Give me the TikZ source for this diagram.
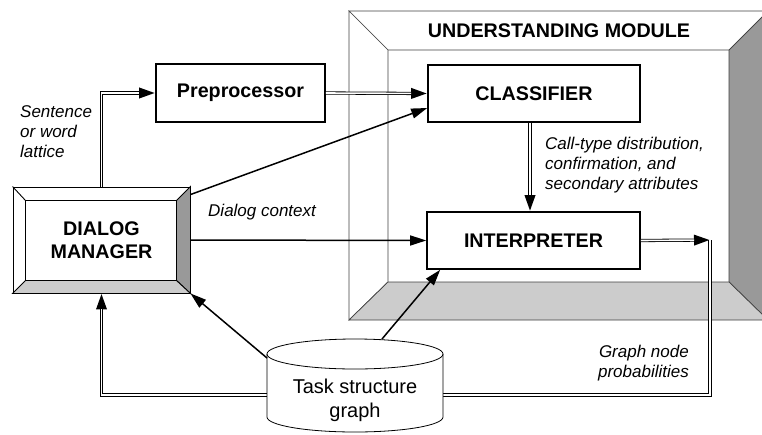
\documentclass[tikz,border=0pt]{standalone}
\usepackage{fontspec}
\setmainfont{Liberation Sans}
\usetikzlibrary{arrows.meta,calc}
\begin{document}
\begin{tikzpicture}[x=1pt,y=-1pt,
  box/.style={draw, line width=1.6pt, fill=white, inner sep=0pt, font=\bfseries\fontsize{19.7}{23}\selectfont},
  conn/.style={line width=1.5pt, -{Triangle[length=16pt,width=10pt]}},
  dbl/.style={line width=3.2pt, -{Triangle[length=16pt,width=10pt]},
              postaction={draw=white, line width=1.6pt, -, shorten >=16pt}},
  dblplain/.style={line width=3.2pt, postaction={draw=white, line width=1.6pt}},
  lbl/.style={font=\itshape\fontsize{17}{20}\selectfont, inner sep=0pt},
  panel/.style={draw=black!75, line width=0.7pt},
]
\useasboundingbox (0,0) rectangle (762,434);
\clip (0,0) rectangle (762,434);

% bevelled frame of the understanding module
\coordinate (mo1) at (349,11);  \coordinate (mo2) at (768,11);
\coordinate (mo3) at (768,320); \coordinate (mo4) at (349,320);
\coordinate (mi1) at (388,50);  \coordinate (mi2) at (729,50);
\coordinate (mi3) at (729,282); \coordinate (mi4) at (388,282);
\filldraw[panel, fill=white] (mo1) -- (mo2) -- (mi2) -- (mi1) -- cycle;
\filldraw[panel, fill=white] (mo1) -- (mi1) -- (mi4) -- (mo4) -- cycle;
\filldraw[panel, fill=black!40] (mo2) -- (mo3) -- (mi3) -- (mi2) -- cycle;
\filldraw[panel, fill=black!20] (mo4) -- (mi4) -- (mi3) -- (mo3) -- cycle;
\node[font=\bfseries\fontsize{19.7}{23}\selectfont] (umt) at (559,31) {UNDERSTANDING MODULE};

% processing boxes
\node[box, minimum width=169pt, minimum height=58pt] (pre) at (240.5,93) {Preprocessor};
\node[box, minimum width=212pt, minimum height=57pt] (cls) at (534,93.5) {CLASSIFIER};
\node[box, minimum width=213pt, minimum height=57pt] (int) at (533.5,240.5) {INTERPRETER};

% dialog manager with bevel
\node[draw, line width=0.9pt, fill=white, minimum width=177pt, minimum height=106pt,
      inner sep=0pt, align=center, font=\bfseries\fontsize{19.7}{23}\selectfont] (dm) at (101.5,240) {DIALOG\\MANAGER};
\coordinate (d1) at ($(dm.north west)+(13,14)$);
\coordinate (d2) at ($(dm.north east)+(-14,14)$);
\coordinate (d3) at ($(dm.south east)+(-14,-13)$);
\coordinate (d4) at ($(dm.south west)+(13,-13)$);
\filldraw[line width=0.9pt, fill=black!40] (dm.north east) -- (dm.south east) -- (d3) -- (d2) -- cycle;
\filldraw[line width=0.9pt, fill=black!20] (dm.south west) -- (dm.south east) -- (d3) -- (d4) -- cycle;
\draw[line width=0.9pt] (d1) rectangle (d3);
\draw[line width=0.9pt] (dm.north west) -- (d1);

% connectors
\draw[dbl] (dm.north) |- (pre.west);
\draw[dbl] (pre.east) -- (cls.west);
\draw[conn] ($(dm.north east)+(0,8)$) -- ($(cls.west)+(0,14.5)$);
\draw[conn] (dm.east) -- (int.west);
\coordinate (cv) at (530,0);
\draw[dbl] (cls.south -| cv) -- (int.north -| cv);
\coordinate (gp) at (710,240);
\coordinate (gc) at (710,395);
\draw[dbl] (int.east) -- (gp);
\draw[dbl] (gp) -- (gc) -| (dm.south);

% task structure graph (cylinder)
\filldraw[line width=0.8pt, fill=white] (267,354) -- (267,417)
  arc[start angle=180, end angle=360, x radius=88pt, y radius=15pt] -- (443,354)
  arc[start angle=0, end angle=180, x radius=88pt, y radius=15pt] -- cycle;
\draw[line width=0.8pt] (267,354) arc[start angle=180, end angle=360, x radius=88pt, y radius=15pt];
\node[font=\fontsize{20}{24}\selectfont, align=center, inner sep=0pt] (tsg) at (355,400) {Task structure\\graph};
\coordinate (tsgA) at (382,339);
\coordinate (tsgB) at (267,358);
\draw[conn] (tsgA) -- ($(int.south west)+(14,0)$);
\draw[conn] (tsgB) -- (dm.south east);

% labels
\node[lbl, align=left, anchor=west] (l1) at (20,132) {Sentence\\or word\\lattice};
\node[lbl, anchor=west] (l2) at (208,212) {Dialog context};
\node[lbl, align=left, anchor=west] (l3) at (545,165) {Call-type distribution,\\confirmation, and\\secondary attributes};
\node[lbl, align=right, anchor=east] (l4) at (689,363) {Graph node\\probabilities};
\end{tikzpicture}
\end{document}
